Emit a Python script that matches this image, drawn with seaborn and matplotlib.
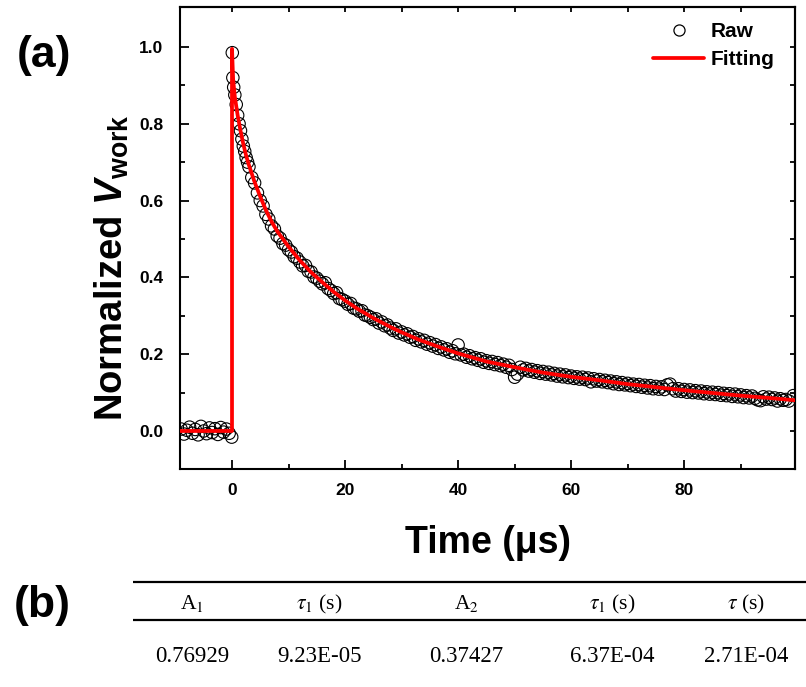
import matplotlib
matplotlib.use("Agg")
import matplotlib.pyplot as plt
import seaborn as sns
import pandas as pd
from matplotlib.lines import Line2D
from matplotlib.ticker import FixedLocator, FormatStrFormatter

# ---------------- data ----------------
raw_t_pre = [-9.0, -8.5, -8.0, -7.5, -7.0, -6.5, -6.0, -5.5, -5.0, -4.5,
             -4.0, -3.5, -3.0, -2.5, -2.0, -1.5, -1.0, -0.5, -0.05]
raw_v_pre = [0.005, -0.008, 0.002, 0.010, -0.006, 0.004, -0.010, 0.012, 0.000, -0.007,
             0.008, -0.004, 0.006, -0.009, 0.009, -0.003, 0.005, -0.006, -0.016]

raw_t_rise = [0.05, 0.15, 0.3, 0.5, 0.75, 1.0, 1.25, 1.5, 1.75, 2.0, 2.25, 2.5, 2.75, 3.0]
raw_v_rise = [0.985, 0.920, 0.895, 0.875, 0.850, 0.822, 0.800, 0.782, 0.760, 0.742,
              0.728, 0.712, 0.700, 0.688]

raw_t_decay = [3.5, 4.0, 4.5, 5.0, 5.5, 6.0, 6.5, 7.0, 7.5, 8.0,
               8.5, 9.0, 9.5, 10.0, 10.5, 11.0, 11.5, 12.0, 12.5, 13.0,
               13.5, 14.0, 14.5, 15.0, 15.5, 16.0, 16.5, 17.0, 17.5, 18.0,
               18.5, 19.0, 19.5, 20.0, 20.5, 21.0, 21.5, 22.0, 22.5, 23.0,
               23.5, 24.0, 24.5, 25.0, 25.5, 26.0, 26.5, 27.0, 27.5, 28.0,
               28.5, 29.0, 29.5, 30.0, 30.5, 31.0, 31.5, 32.0, 32.5, 33.0,
               33.5, 34.0, 34.5, 35.0, 35.5, 36.0, 36.5, 37.0, 37.5, 38.0,
               38.5, 39.0, 39.5, 40.0, 40.5, 41.0, 41.5, 42.0, 42.5, 43.0,
               43.5, 44.0, 44.5, 45.0, 45.5, 46.0, 46.5, 47.0, 47.5, 48.0,
               48.5, 49.0, 49.5, 50.0, 50.5, 51.0, 51.5, 52.0, 52.5, 53.0,
               53.5, 54.0, 54.5, 55.0, 55.5, 56.0, 56.5, 57.0, 57.5, 58.0,
               58.5, 59.0, 59.5, 60.0, 60.5, 61.0, 61.5, 62.0, 62.5, 63.0,
               63.5, 64.0, 64.5, 65.0, 65.5, 66.0, 66.5, 67.0, 67.5, 68.0,
               68.5, 69.0, 69.5, 70.0, 70.5, 71.0, 71.5, 72.0, 72.5, 73.0,
               73.5, 74.0, 74.5, 75.0, 75.5, 76.0, 76.5, 77.0, 77.5, 78.0,
               78.5, 79.0, 79.5, 80.0, 80.5, 81.0, 81.5, 82.0, 82.5, 83.0,
               83.5, 84.0, 84.5, 85.0, 85.5, 86.0, 86.5, 87.0, 87.5, 88.0,
               88.5, 89.0, 89.5, 90.0, 90.5, 91.0, 91.5, 92.0, 92.5, 93.0,
               93.5, 94.0, 94.5, 95.0, 95.5, 96.0, 96.5, 97.0, 97.5, 98.0,
               98.5, 99.3]
raw_v_decay = [0.660, 0.646, 0.620, 0.600, 0.586, 0.564, 0.552, 0.534, 0.526, 0.508,
               0.502, 0.488, 0.484, 0.472, 0.466, 0.454, 0.450, 0.440, 0.430, 0.431,
               0.416, 0.414, 0.401, 0.398, 0.390, 0.383, 0.386, 0.371, 0.366, 0.358,
               0.360, 0.345, 0.342, 0.338, 0.330, 0.332, 0.320, 0.318, 0.312, 0.313,
               0.302, 0.300, 0.296, 0.290, 0.292, 0.281, 0.284, 0.274, 0.276, 0.268,
               0.262, 0.266, 0.255, 0.258, 0.250, 0.253, 0.244, 0.246, 0.236, 0.240,
               0.232, 0.236, 0.226, 0.230, 0.221, 0.225, 0.215, 0.219, 0.211, 0.214,
               0.205, 0.209, 0.201, 0.224, 0.198, 0.200, 0.192, 0.196, 0.188, 0.191,
               0.184, 0.188, 0.179, 0.183, 0.176, 0.181, 0.173, 0.178, 0.170, 0.174,
               0.166, 0.171, 0.160, 0.140, 0.148, 0.166, 0.159, 0.163, 0.156, 0.160,
               0.153, 0.157, 0.150, 0.155, 0.148, 0.153, 0.146, 0.150, 0.143, 0.148,
               0.141, 0.146, 0.139, 0.143, 0.137, 0.141, 0.135, 0.140, 0.134, 0.138,
               0.128, 0.136, 0.130, 0.134, 0.128, 0.132, 0.126, 0.130, 0.123, 0.128,
               0.121, 0.126, 0.120, 0.124, 0.118, 0.122, 0.116, 0.121, 0.114, 0.119,
               0.112, 0.118, 0.110, 0.116, 0.109, 0.115, 0.108, 0.120, 0.122, 0.110,
               0.104, 0.110, 0.103, 0.108, 0.101, 0.107, 0.100, 0.105, 0.099, 0.104,
               0.097, 0.102, 0.096, 0.101, 0.095, 0.100, 0.093, 0.098, 0.092, 0.097,
               0.090, 0.096, 0.089, 0.094, 0.087, 0.092, 0.086, 0.091, 0.085, 0.081,
               0.079, 0.089, 0.083, 0.088, 0.082, 0.086, 0.078, 0.084, 0.080, 0.082,
               0.078, 0.092]

fit_t = [-9.2, 0.0, 0.0, 0.2, 0.5, 1.0, 1.5, 2.0, 2.5, 3.0, 4.0, 5.0, 6.0, 7.0, 8.0,
         9.0, 10.0, 12.0, 14.0, 16.0, 18.0, 20.0, 22.0, 25.0, 28.0, 30.0, 33.0, 36.0,
         40.0, 45.0, 50.0, 55.0, 60.0, 65.0, 70.0, 75.0, 80.0, 85.0, 90.0, 95.0, 99.6]
fit_v = [0.0, 0.0, 0.995, 0.915, 0.870, 0.822, 0.782, 0.747, 0.717, 0.692, 0.648,
         0.610, 0.575, 0.545, 0.520, 0.500, 0.480, 0.444, 0.413, 0.387, 0.362, 0.340,
         0.320, 0.294, 0.271, 0.257, 0.238, 0.222, 0.202, 0.181, 0.166, 0.152, 0.141,
         0.132, 0.122, 0.114, 0.106, 0.099, 0.092, 0.086, 0.080]

x_major = [0, 20, 40, 60, 80]
x_minor = [10, 30, 50, 70, 90]
y_major = [0.0, 0.2, 0.4, 0.6, 0.8, 1.0]
y_minor = [0.1, 0.3, 0.5, 0.7, 0.9]

table_headers = [r"A$_1$", r"$\tau_1$ (s)", r"A$_2$", r"$\tau_1$ (s)", r"$\tau$ (s)"]
table_values = ["0.76929", "9.23E-05", "0.37427", "6.37E-04", "2.71E-04"]

# ---------------- style ----------------
sns.set_theme(style="white")
plt.rcParams['font.family'] = ['Liberation Sans', 'DejaVu Sans']
plt.rcParams['mathtext.fontset'] = 'custom'
plt.rcParams['mathtext.rm'] = 'Liberation Sans:bold'
plt.rcParams['mathtext.it'] = 'Liberation Sans:italic:bold'
plt.rcParams['mathtext.bf'] = 'Liberation Sans:bold'
for key in ['text.color', 'axes.labelcolor', 'xtick.color', 'ytick.color', 'axes.edgecolor']:
    plt.rcParams[key] = 'black'

W, H = 806, 687
fig = plt.figure(figsize=(W / 100, H / 100), dpi=100)
ax = fig.add_axes([180 / W, 1 - 469 / H, 615 / W, 462 / H])

raw = pd.DataFrame({"t": raw_t_pre + raw_t_rise + raw_t_decay,
                    "v": raw_v_pre + raw_v_rise + raw_v_decay})
fit = pd.DataFrame({"t": fit_t, "v": fit_v})

sns.scatterplot(data=raw, x="t", y="v", ax=ax, marker="o", s=80,
                color="black", linewidth=0.8, zorder=2, legend=False)
ax.collections[0].set_facecolor("none")
ax.collections[0].set_edgecolor("black")
sns.lineplot(data=fit, x="t", y="v", ax=ax, sort=False, estimator=None,
             color="red", lw=2.7, zorder=3, legend=False)

ax.set_xlim(-9.2, 99.6)
ax.set_ylim(-0.099, 1.104)

for sp in ax.spines.values():
    sp.set_color("black")
    sp.set_linewidth(1.5)
    sp.set_visible(True)

ax.xaxis.set_major_locator(FixedLocator(x_major))
ax.xaxis.set_minor_locator(FixedLocator(x_minor))
ax.yaxis.set_major_locator(FixedLocator(y_major))
ax.yaxis.set_minor_locator(FixedLocator(y_minor))
ax.yaxis.set_major_formatter(FormatStrFormatter("%.1f"))
ax.xaxis.set_major_formatter(FormatStrFormatter("%d"))
ax.tick_params(which="major", direction="in", length=6.5, width=1.3, color="black",
               labelcolor="black", labelsize=12.5, bottom=True, left=True)
ax.tick_params(which="minor", direction="in", length=3.5, width=1.3, color="black",
               bottom=True, left=True)
ax.tick_params(axis="x", pad=10)
ax.tick_params(axis="y", pad=12)
for lab in ax.get_xticklabels() + ax.get_yticklabels():
    lab.set_fontweight("bold")

secx = ax.secondary_xaxis("top")
secx.set_xticks(x_major + x_minor)
secx.tick_params(direction="in", length=3.5, width=1.3, color="black", labeltop=False)
secx.spines["top"].set_linewidth(1.5)
secy = ax.secondary_yaxis("right")
secy.set_yticks(y_major + y_minor)
secy.tick_params(direction="in", length=3.5, width=1.3, color="black", labelright=False)
secy.spines["right"].set_linewidth(1.5)

ax.set_xlabel("Time (\u03bcs)", fontsize=27, fontweight="bold", color="black")
ax.xaxis.label.set(va="center", ha="center")
ax.xaxis.set_label_coords((488 - 180) / 615, (469 - 543) / 462)
ax.set_ylabel(r"Normalized $V_{\mathrm{work}}$", fontsize=27.5, fontweight="bold", color="black")
ax.yaxis.label.set(va="center", ha="center", rotation_mode="anchor")
ax.yaxis.set_label_coords((112 - 180) / 615, (469 - 268) / 462)

handles = [Line2D([], [], marker="o", ls="none", mfc="none", mec="black", ms=8.0, mew=0.9),
           Line2D([], [], color="red", lw=2.7)]
fig.legend(handles, ["Raw", "Fitting"], loc="upper left",
           bbox_to_anchor=(653 / W, 1 - 22 / H), frameon=False,
           prop={"weight": "bold", "size": 15}, handlelength=2.45,
           handletextpad=0.3, borderpad=0, borderaxespad=0, labelspacing=0.45)

# ---------------- panel labels and table ----------------
tax = fig.add_axes([0, 0, 1, 1], zorder=-1)
tax.set_xlim(0, W)
tax.set_ylim(H, 0)
tax.axis("off")

tax.text(44, 55, "(a)", fontsize=32, fontweight="bold", ha="center", va="center")
tax.text(42, 605, "(b)", fontsize=32, fontweight="bold", ha="center", va="center")

tax.plot([133, W], [582, 582], color="black", lw=1.6, solid_capstyle="butt")
tax.plot([133, W], [620, 620], color="black", lw=1.6, solid_capstyle="butt")
col_x = [192, 319, 466, 612, 746]
for cx, hd, vl in zip(col_x, table_headers, table_values):
    tax.text(cx, 604, hd, fontsize=15.5, family="Liberation Serif", math_fontfamily="stix",
             ha="center", va="center")
    tax.text(cx, 656, vl, fontsize=16.5, family="Liberation Serif",
             ha="center", va="center")

fig.savefig("out.png", dpi=100)
